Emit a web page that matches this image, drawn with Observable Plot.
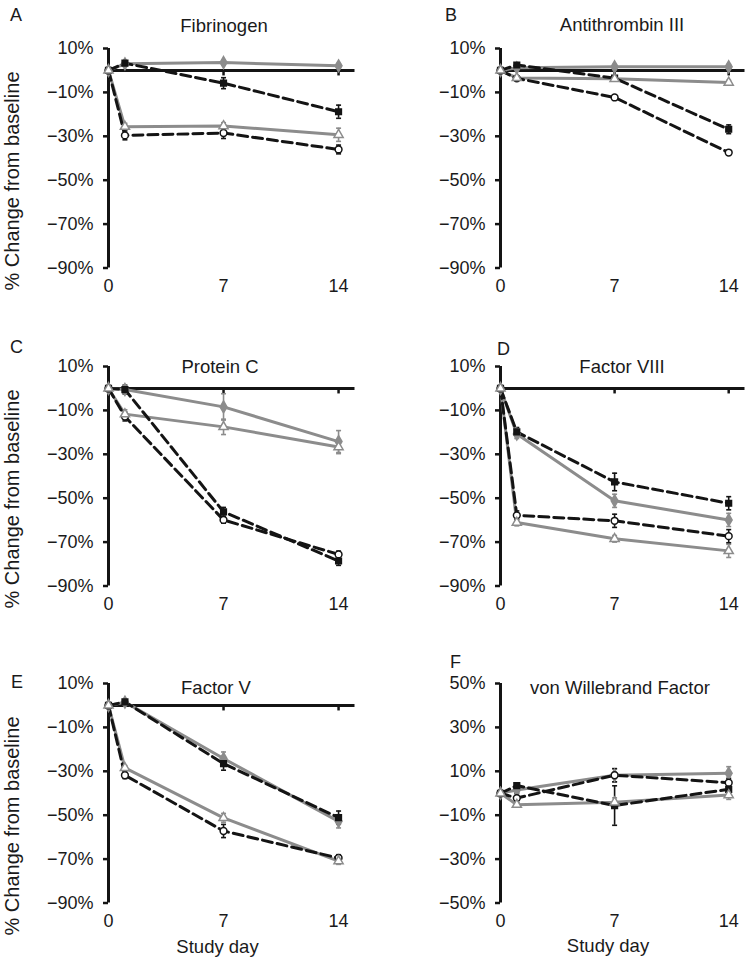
<!DOCTYPE html>
<html><head><meta charset="utf-8">
<script src="https://cdn.jsdelivr.net/npm/d3@7"></script>
<script src="https://cdn.jsdelivr.net/npm/@observablehq/plot@0.6"></script>
<style>
body{margin:0;background:#fff;}
#fig{position:relative;width:751px;height:965px;overflow:hidden;background:#fff;font-family:"Liberation Sans",Arial,Helvetica,sans-serif;color:#1a1a1a;}
.t{position:absolute;white-space:nowrap;line-height:1;}
.p{position:absolute;}
</style></head><body><div id="fig"></div>
<script>
// ---------- data ----------
const days = [0, 1, 7, 14];
const panelLetters = ["A", "B", "C", "D", "E", "F"];
const panelTitles = ["Fibrinogen", "Antithrombin III", "Protein C", "Factor VIII", "Factor V", "von Willebrand Factor"];
const xTicks = [0, 7, 14];
const yTicksStd = [10, -10, -30, -50, -70, -90];
const yTicksVWF = [50, 30, 10, -10, -30, -50];
const yDomainStd = [-90, 10];
const yDomainVWF = [-50, 50];
const yAxisLabel = "% Change from baseline";
const xAxisLabel = "Study day";

// % change at days 0, 1, 7, 14 for panels A..F
const grayDiamond = [[0, 3, 3.6, 2.1], [0, 1.2, 1.7, 1.7], [0, -0.5, -8.4, -24.2], [0, -20.8, -51.2, -59.9], [0, 1.5, -24.2, -52.8], [0, 1.5, 8.2, 9.1]];
const grayTriangle = [[0, -25.6, -25.3, -29.3], [0, -3.4, -3.8, -5.5], [0, -11.7, -17.5, -26.7], [0, -61.1, -68.5, -74], [0, -28.4, -51.2, -70.9], [0, -5.2, -4.1, -0.8]];
const blackSquare = [[0, 3.3, -5.8, -18.8], [0, 2.5, -3.5, -26.8], [0, -0.5, -56.2, -78.6], [0, -19.8, -42.6, -52.3], [0, 1.6, -26.5, -51.1], [0, 3.5, -5.6, 1.8]];
const openCircle = [[0, -29.6, -28.5, -36], [0, -3.6, -12.3, -37.4], [0, -12.8, -59.9, -75.6], [0, -57.8, -60.3, -67.3], [0, -31.8, -57.2, -69.5], [0, -2.2, 8.2, 4.8]];

// error bar half-lengths (percentage points)
const grayDiamondErr = [[0, 0.5, 1, 1], [0, 0.5, 1, 1], [0, 1, 6, 5], [0, 2, 3, 3], [0, 1, 3, 3], [0, 1, 3, 3]];
const grayTriangleErr = [[0, 1.5, 1.5, 3], [0, 1, 1, 1], [0, 2, 3.5, 3], [0, 1.5, 1.5, 3], [0, 1, 2, 1.5], [0, 1, 2, 2]];
const blackSquareErr = [[0, 1, 2.5, 3], [0, 1, 1, 2], [0, 2, 2, 2], [0, 2, 4, 3], [0, 1, 3, 3], [0, 1, 9, 2]];
const openCircleErr = [[0, 2, 2.5, 2], [0, 1, 1, 1], [0, 2, 1.5, 1.5], [0, 2, 3, 3], [0, 1.5, 3, 1.5], [0, 2, 3, 2]];

// panels that draw a baseline (zero) line
const hasZeroLine = [true, true, true, true, true, false];

// ---------- styling ----------
const GRAY = "#8c8c8c", BLACK = "#141414";
const series = [
  {key: "grayDiamond", vals: grayDiamond, errs: grayDiamondErr, stroke: GRAY, fill: GRAY, symbol: "diamond", r: 3.6, dash: null, order: 0},
  {key: "grayTriangle", vals: grayTriangle, errs: grayTriangleErr, stroke: GRAY, fill: "white", symbol: "triangle", r: 3.4, dash: null, order: 3},
  {key: "blackSquare", vals: blackSquare, errs: blackSquareErr, stroke: BLACK, fill: BLACK, symbol: "square", r: 3.2, dash: "10,5", order: 1},
  {key: "openCircle", vals: openCircle, errs: openCircleErr, stroke: BLACK, fill: "white", symbol: "circle", r: 3.4, dash: "10,5", order: 2}
];

const tickDown = {draw(ctx) { ctx.moveTo(0, 0); ctx.lineTo(0, 5); }};
const capSym = {draw(ctx) { ctx.moveTo(-2.5, 0); ctx.lineTo(2.5, 0); }};
const fmtPct = d => (d < 0 ? "\u2212" : "") + Math.abs(d) + "%";

const fig = document.getElementById("fig");
function addText(txt, x, baseline, size, anchor) {
  const d = document.createElement("div");
  d.className = "t";
  d.textContent = txt;
  d.style.fontSize = size + "px";
  d.style.top = (baseline - 0.8465 * size) + "px";
  if (anchor === "middle") { d.style.left = x + "px"; d.style.transform = "translateX(-50%)"; }
  else d.style.left = x + "px";
  fig.appendChild(d);
}
function addRotated(txt, cx, cy, size) {
  const d = document.createElement("div");
  d.className = "t";
  d.textContent = txt;
  d.style.fontSize = size + "px";
  d.style.left = cx + "px";
  d.style.top = cy + "px";
  d.style.transform = "translate(-50%,-50%) rotate(-90deg)";
  fig.appendChild(d);
}

const colLeft = [0, 375];
const colWidth = [375, 376];
const colMarginLeft = [108, 125];
const colMarginRight = [20.5, 6.5];
const rowTop = [0, 318, 635];

for (let p = 0; p < 6; p++) {
  const col = p % 2, row = Math.floor(p / 2);
  const isVWF = p === 5;
  const rowsFor = s => days.map((d, i) => ({day: d, v: s.vals[p][i], e: s.errs[p][i]}));
  const marks = [];
  // axes
  marks.push(Plot.axisY({ticks: isVWF ? yTicksVWF : yTicksStd, tickSize: 5, tickPadding: 10, tickFormat: fmtPct, strokeWidth: 2.5, label: null, stroke: BLACK}));
  marks.push(Plot.axisX({ticks: xTicks, tickSize: 0, tickPadding: 11, tickFormat: d => String(d), label: null}));
  marks.push(Plot.ruleX([0], {stroke: BLACK, strokeWidth: 3}));
  if (hasZeroLine[p]) {
    marks.push(Plot.ruleY([0], {stroke: BLACK, strokeWidth: 3}));
    marks.push(Plot.dot(xTicks.filter(d => d > 0), {x: d => d, y: () => 0, symbol: tickDown, stroke: BLACK, strokeWidth: 2.5, fill: "none"}));
  }
  // error bars
  for (const s of series) {
    const rows = rowsFor(s).filter(r => r.e > 0);
    marks.push(Plot.ruleX(rows, {x: "day", y1: r => r.v - r.e, y2: r => r.v + r.e, stroke: s.stroke, strokeWidth: 1.6}));
    const caps = rows.flatMap(r => [{day: r.day, y: r.v - r.e}, {day: r.day, y: r.v + r.e}]);
    marks.push(Plot.dot(caps, {x: "day", y: "y", symbol: capSym, stroke: s.stroke, strokeWidth: 1.6, fill: "none"}));
  }
  // lines: gray solid first, then black dashed
  for (const s of [series[1], series[0], series[3], series[2]]) {
    marks.push(Plot.line(rowsFor(s), {x: "day", y: "v", stroke: s.stroke, strokeWidth: 3, strokeDasharray: s.dash || undefined, strokeLinejoin: "round"}));
  }
  // markers
  for (const s of [...series].sort((a, b) => a.order - b.order)) {
    marks.push(Plot.dot(rowsFor(s), {x: "day", y: "v", symbol: s.symbol, r: s.r, fill: s.fill, stroke: s.stroke, strokeWidth: 1.5}));
  }
  const svg = Plot.plot({
    width: colWidth[col], height: 300,
    marginLeft: colMarginLeft[col], marginRight: colMarginRight[col],
    marginTop: 48, marginBottom: 32.5,
    x: {domain: [0, 15], axis: null},
    y: {domain: isVWF ? yDomainVWF : yDomainStd, axis: null},
    style: {fontFamily: '"Liberation Sans", Arial, Helvetica, sans-serif', fontSize: "18px", color: "#1a1a1a", background: "transparent", overflow: "visible"},
    marks
  });
  const wrap = document.createElement("div");
  wrap.className = "p";
  wrap.style.left = colLeft[col] + "px";
  wrap.style.top = rowTop[row] + "px";
  wrap.appendChild(svg);
  fig.appendChild(wrap);
}

// panel letters, titles, axis labels
const letterPos = [[10, 21], [445, 21], [10, 353], [497, 355], [11, 688], [450, 668]];
const titlePos = [[224, 32.5], [622, 32], [220, 374], [622, 374], [216, 695], [620, 695]];
for (let p = 0; p < 6; p++) {
  addText(panelLetters[p], letterPos[p][0], letterPos[p][1], 18, "start");
  addText(panelTitles[p], titlePos[p][0], titlePos[p][1], 18.5, "middle");
}
const yLabelCenters = [181, 499, 826];
for (const cy of yLabelCenters) addRotated(yAxisLabel, 12, cy, 20);
addText(xAxisLabel, 217.5, 954, 18.5, "middle");
addText(xAxisLabel, 608, 953, 18.5, "middle");
</script></body></html>
